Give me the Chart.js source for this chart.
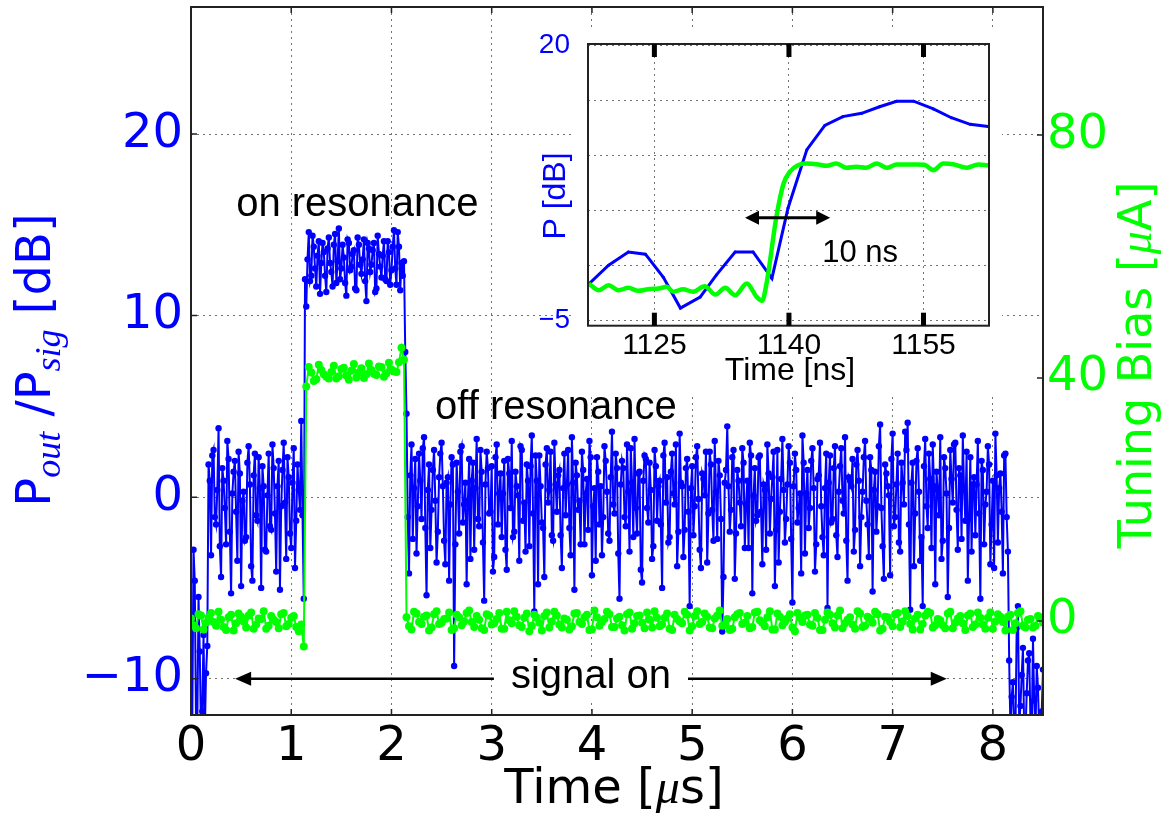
<!DOCTYPE html>
<html>
<head>
<meta charset="utf-8">
<script src="https://cdn.jsdelivr.net/npm/chart.js@4/dist/chart.umd.min.js"></script>
<style>
html, body { margin: 0; padding: 0; background: #fff; }
#wrap { position: relative; width: 1172px; height: 816px; }
#main { position: absolute; left: 0; top: 0; }
#inset { position: absolute; left: 540px; top: 30px; }
</style>
</head>
<body>
<div id="wrap">
  <canvas id="main" width="1172" height="816"></canvas>
  <canvas id="inset" width="462" height="365"></canvas>
</div>
<script>
// sampling of the two traces in the main panel (us); each trace is read at
// t = i*step and again half a step later
const sampleStep = 0.025;
const biasStep = 0.05;

// P_out/P_sig [dB] at t = i*sampleStep
const powerDb = [
  -13, -2.9, -12.5, -5.5, -13, -7.6, -9.7,
  1.8, -3.2, 2.6, -1.5, 3.8, -4.4, 0.9, -2.6, 2.1, -5.3, 1.4, -0.8, 2.5, -4.9, 0.3, -2.2, 2.8, -3.8, 1.2,
  -1.0, 2.2, -5.0, 0.6, -3.0, 2.4, -1.8, 1.6, -4.1, 2.0, -0.5, 3.0, -3.4, 1.1, -2.8, 2.7, -1.3, 0.4,
  4.2, -5.6,
  10.5, 14.6, 12.2, 13.8, 11.6, 14.1, 12.9, 13.5, 11.3, 14.3, 12.4, 13.9, 11.8, 14.8, 12.6, 13.2, 11.1, 14.0, 12.7, 13.6,
  11.4, 13.9, 12.3, 14.2, 10.8, 13.7, 12.8, 14.0, 11.5, 13.4, 12.1, 14.1, 11.9, 13.5, 12.5, 14.7, 11.7, 13.8, 12.9, 13.0,
  4.6, -4.2, 2.9, 0.5, -3.1, 2.4, -1.2, 3.3, -5.4, 1.8, -0.7, 2.6, -3.6, 1.1, 3.0, -2.4, 0.8, -4.6, 2.2, -9.3,
  1.9, -2.0, 2.8, -0.4, -4.8, 2.1, 0.9, -2.9, 3.2, -1.6, 1.4, -5.7, 2.5, -0.9, 1.7, -3.3, 2.9, 0.2, -2.2, 2.0,
  -4.0, 1.3, 3.1, -1.9, 0.6, -3.5, 2.6, -0.3, 1.8, -2.7, 3.4, -6.3, 0.9, 2.3, -1.4, -4.4, 2.7, 0.4, -2.1, 3.0,
  -0.8, 1.5, -3.9, 2.4, 0.7, -1.7, 3.3, -5.1, 1.2, -0.2, 2.5, -2.6, 1.0, 3.1, -4.3, 0.5, 2.2, -1.5, -3.2, 2.8,
  0.3, -2.4, 3.6, -0.9, 1.6, -5.6, 2.0, -1.1, 2.9, -3.0, 0.8, 3.2, -2.0, 1.4, -4.7, 2.3, -0.6, 1.9, -3.4, 2.6,
  -1.3, 0.9, -5.0, 3.0, 1.1, -2.2, 2.4, -0.4, -3.8, 3.5, 0.6, -1.8, 2.1, -6.0, 1.7, -0.5, 2.8, -2.9, 1.3, 0.1,
  -3.6, 2.5, -0.7, 3.1, -2.3, 1.2, -7.4, 0.8, 3.9, -1.9, 2.2, -4.5, 1.5, -0.3, 2.7, -2.8, 0.9, 3.0, -5.3, 1.6,
  -1.0, 2.3, -3.7, 0.4, 2.9, -2.0, 1.1, -4.9, 2.6, -0.8, 3.2, -2.5, 0.7, 1.9, -5.8, 2.4, -1.4, 0.2, 3.4, -3.1,
  1.5, -0.6, 2.7, -4.1, 1.0, 3.0, -2.2, 0.5, -6.1, 2.3, -1.2, 2.8, -3.3, 1.7, -0.2, 3.3, -4.6, 0.9, 2.1, -1.8,
  2.6, -3.8, 0.3, 3.1, -1.5, 2.2, -5.2, 1.4, -0.5, 4.0, -2.7, 1.8, 0.6, -4.3, 3.5, -1.1, 2.4, -3.0, 0.8, 3.6,
  4.1, -6.2, 1.9, -0.9, 2.7, -3.5, -6.0, 3.2, -1.7, 1.0, 2.9, -4.8, 0.4, 3.3, -2.4, 1.6, -5.5, 2.6, -0.3, 3.0,
  -2.9, 1.2, 3.4, -1.3, -4.6, 2.2, 0.7, -2.1, 3.1, -5.6, 1.5, -0.4, 2.8, -3.7, 0.9, 3.5, -2.5, 1.3, -4.2, 2.4,
  -3.0,
  -12.8, -10.2, -13, -6.0, -11.5, -8.3, -13, -9.0, -12.4, -7.8, -13, -10.5, -12.6, -9.5
];

// P_out/P_sig [dB] at t = (i + 0.5)*sampleStep
const powerDbMid = [
  -12.8, -4.6, -13, -8.5, -11.8, -13, -8.2,
  0.9, 2.3, -1.1, 0.4, -2.7, 1.6, -0.6, 3.1, -1.9, 0.2, 2.0, -3.5, 1.3, -0.2, -2.4, 1.9, 0.7, -4.6, 2.4,
  -1.3, 0.5, 1.7, -2.9, 0.1, -1.6, 2.9, -0.9, 0.6, -5.1, 1.5, -0.3, 2.2, -2.0, 0.8, -3.9, 1.8, -0.7,
  -1.0, 12.0,
  13.1, 11.9, 14.4, 12.6, 13.3, 11.2, 14.0, 12.2, 13.7, 12.9, 11.6, 14.5, 13.0, 12.0, 13.9, 11.8, 14.2, 12.5, 13.4, 11.5,
  14.3, 12.8, 13.1, 11.9, 14.0, 12.4, 13.6, 11.3, 14.4, 12.7, 13.3, 12.0, 14.1, 11.7, 13.8, 12.6, 14.6, 11.4, 12.2,
  8.0,
  -1.1, 1.2, -2.3, 2.1, -0.5, 0.9, 2.7, -1.7, 0.4, -2.8, 1.5, -0.2, -1.9, 2.4, 0.6, -3.7, 1.1, -0.4, 1.8, -2.6,
  0.3, 2.5, -1.4, 0.8, -0.2, -3.4, 1.9, 0.5, -1.2, 2.6, -2.5, 0.7, 1.6, -0.8, -4.1, 2.2, -1.5, 1.3, 0.2, -2.9,
  2.1, -0.6, -2.2, 1.4, 0.1, 2.8, -1.3, -3.0, 0.9, 1.7, -0.9, 2.3, -4.8, 0.6, -1.7, 1.8, -0.3, 2.5, -2.4, 0.7,
  1.2, -2.1, 0.5, -1.0, 2.6, -3.2, 0.8, 1.9, -0.7, -2.6, 1.5, 0.2, -1.8, 2.2, -0.5, -3.5, 1.4, 0.6, -1.1, 2.0,
  -2.0, 1.1, -0.4, 2.4, -3.1, 0.7, 1.6, -1.6, 0.3, 2.7, -2.2, -0.6, 1.3, -4.0, 0.9, 2.1, -1.4, 0.4, -2.7, 1.7,
  0.6, -1.5, 2.3, -0.3, -2.5, 1.4, 0.2, 2.9, -1.9, 0.8, -3.3, 1.6, -0.8, 0.5, -2.1, 2.2, -0.1, -3.9, 1.0, 2.5,
  -0.9, 1.8, -2.4, 0.3, 2.0, -1.2, -4.4, 1.5, 0.6, -0.7, 2.6, -2.0, 0.9, -1.6, 1.9, -0.4, -2.8, 2.3, 0.1, -1.3,
  2.2, -0.8, 0.7, -2.9, 1.3, -0.1, 2.5, -1.8, -3.6, 1.0, 0.4, -1.2, 2.8, -2.3, 0.6, 1.5, -0.6, -4.2, 1.9, 0.2,
  -1.7, 2.0, 0.5, -2.6, 1.2, -0.5, -3.2, 2.4, 0.8, -1.4, 1.6, -2.1, 0.3, 2.7, -0.9, -2.4, 1.1, 0.6, -3.0, 1.8,
  0.9, -1.1, 2.2, -0.2, -3.3, 1.5, 0.4, -1.9, 2.8, -0.6, -4.5, 1.3, 0.1, 2.1, -1.6, 0.7, -2.5, 1.9, -0.4, 2.6,
  -1.5, 0.8, -3.8, 2.0, 0.3, -2.2, 1.7, -0.5, 2.4, -2.8, 0.6, 1.4, -1.0, -3.4, 2.2, 0.2, -1.7, 1.0, 2.9, -0.7,
  1.6, -2.3, 0.4, 2.5, -1.2, -3.0, 1.1, 0.7, -0.9, 2.0, -2.6, 0.3, 1.8, -1.5, -3.9, 1.2, 0.5, -0.8, 2.3, -1.1,
  -9.0,
  -11.0, -13, -7.2, -12.5, -9.8, -13, -10.8, -8.6, -13, -11.2, -9.3, -13, -11.8
];

// tuning bias [uA] at t = i*biasStep
const biasUA = [
  0.4, -1.2, 0.9, -0.3, 1.3, -0.8, 0.2, -1.5, 1.0, -0.4, 0.7, -1.1, 1.4, -0.6, 0.3, -1.3, 0.8, -0.2, 1.1, -0.9, 0.5, -1.0, -0.6,
  38.6, 40.9, 39.8, 41.3, 40.2, 41.0, 39.9, 41.5, 40.4, 41.2, 40.1, 41.6, 40.6, 41.3, 40.5, 41.8, 40.8, 41.4, 41.0, 45.0,
  0.6, -1.4, 1.2, -0.5, 0.9, -1.1, 1.6, -0.3, 0.4, -1.5, 1.0, -0.7, 1.3, -0.2, 0.8, -1.2,
  1.1, -0.6, 0.3, -1.3, 1.5, -0.4, 0.7, -1.0, 1.2, -0.8, 0.5, -1.6, 1.4, -0.1, 0.9, -1.1,
  0.2, -0.9, 1.3, -0.5, 1.0, -1.4, 0.6, -0.2, 1.5, -1.0, 0.4, -0.7, 1.1, -1.3, 0.8, -0.3,
  1.4, -1.1, 0.5, -0.6, 1.2, -1.5, 0.3, -0.4, 1.0, -0.9, 1.6, -0.2, 0.7, -1.2, 0.9, -0.8,
  0.3, -1.3, 1.1, -0.5, 0.8, -1.0, 1.5, -0.3, 0.6, -1.4, 1.2, -0.7, 0.4, -1.1, 1.3, -0.2,
  1.0, -0.8, 0.5, -1.5, 1.4, -0.4, 0.9, -1.2, 0.2, -0.6, 1.6, -1.0, 0.7, -0.3, 1.1, -1.3,
  0.6, -0.9, 1.3, -0.1, 0.8, -1.4, 1.0, -0.5, 1.5, -1.1, 0.3, -0.7, 1.2, -1.2, 0.4, -0.4,
  0.9, -1.0, 1.4, -0.6, 0.5, -1.3, 1.1, -0.2, 0.7, -1.5, 1.3, -0.8, 0.2, -1.1, 0.8, -0.3
];

// tuning bias [uA] at t = (i + 0.5)*biasStep
const biasUAMid = [
  -0.7, 1.1, -1.4, 0.5, -0.2, 1.5, -1.0, 0.6, -1.6, 1.2, -0.1, 0.9, -1.3, 0.4, 1.6, -0.8, 0.2, -1.2, 1.3, -0.5, 0.8, -1.7,
  -4.2,
  41.8, 39.5, 42.2, 40.6, 39.9, 42.0, 40.3, 41.7, 39.7, 42.3, 40.9, 40.0, 42.4, 40.7, 41.9, 40.2, 42.5, 41.1, 42.6,
  43.0,
  -0.9, 1.5, -0.2, 0.7, -1.6, 1.1, -0.5, 0.3, 1.4, -1.2, 0.6, -0.1, 1.7, -1.0, 0.2, -1.5,
  0.9, -0.4, 1.3, -1.3, 0.1, 1.6, -0.7, 0.5, -1.7, 1.0, -0.3, 0.8, -1.1, 1.5, -0.6, 0.4,
  -1.4, 1.2, -0.2, 0.6, -1.5, 1.7, -0.8, 0.3, 1.1, -1.0, 0.7, -1.6, 1.4, -0.4, 0.9, -1.2,
  0.2, 1.6, -0.9, 0.5, -1.3, 1.0, -0.1, 1.5, -1.6, 0.8, -0.5, 1.2, -1.1, 0.4, 1.7, -0.7,
  -1.5, 0.6, 1.3, -0.3, -1.2, 1.4, 0.1, -0.9, 1.6, -1.4, 0.7, -0.2, 1.1, -1.7, 0.5, 0.9,
  -0.6, 1.3, -1.5, 0.2, 1.0, -1.1, 1.7, -0.4, 0.6, -1.3, 1.2, -0.8, 0.3, 1.5, -1.6, 0.7,
  -0.2, 1.1, -1.0, 1.6, -0.5, 0.4, -1.4, 0.9, 1.3, -0.7, 0.1, -1.2, 1.5, -0.3, 0.8, -1.5,
  1.2, -0.6, 0.5, -1.3, 1.4, -0.1, 0.7, -1.6, 1.0, -0.4, 1.6, -1.1, 0.3, -0.8, 0.6
];

const timeTicks = [0, 1, 2, 3, 4, 5, 6, 7, 8];
const powerTicks = [-10, 0, 10, 20];
const biasTicks = [0, 40, 80];

// inset: zoom on the switching edge (ns)
const zoomPowerTime = [1117.7, 1119.9, 1122.1, 1124.0, 1126.0, 1127.9, 1130.1, 1131.9, 1134.0, 1136.0, 1138.1, 1139.9,
  1142.0, 1144.0, 1146.0, 1148.1, 1150.1, 1152.0, 1153.9, 1156.1, 1158.1, 1160.2, 1162.2];
const zoomPowerDb = [-1.7, 0.0, 1.2, 1.0, -1.1, -3.9, -2.9, -0.9, 1.2, 1.2, -1.2, 5.2,
  10.5, 12.7, 13.5, 13.8, 14.4, 14.9, 14.9, 14.2, 13.4, 12.8, 12.6];
const zoomBiasTime = [1117.7, 1118.8, 1119.9, 1121.0, 1122.1, 1123.2, 1124.3, 1125.5, 1126.4, 1127.1, 1128.2, 1129.3,
  1130.6, 1131.8, 1132.9, 1134.0, 1135.3, 1136.4, 1137.0, 1137.5, 1138.6, 1139.4, 1140.1, 1141.0, 1142.0, 1143.1,
  1144.2, 1145.3, 1146.4, 1147.5, 1148.6, 1149.8, 1150.9, 1152.0, 1153.1, 1154.2, 1155.1, 1156.1, 1157.2, 1158.3,
  1159.8, 1161.1, 1162.2];
// bias trace in the inset, shown in the inset's dB units
const zoomBiasScaled = [-1.67, -2.27, -1.82, -2.27, -2.06, -2.33, -2.18, -2.12, -1.97, -2.42, -2.18, -2.42,
  -1.91, -2.67, -2.06, -2.73, -1.67, -2.88, -3.24, -1.67, 4.39, 7.42, 8.49, 9.09, 9.24, 9.18,
  9.03, 9.24, 8.85, 8.94, 8.85, 9.24, 8.85, 9.15, 9.15, 9.15, 9.12, 8.64, 9.24, 9.18,
  8.85, 9.15, 9.09];
const zoomTimeTicks = [1125, 1140, 1155];
const zoomPowerTicks = [-5, 0, 5, 10, 15, 20];

const BLUE = '#0000ff';
const GREEN = '#00ff00';
const SANS = 'DejaVu Sans';
const MATH = 'Liberation Serif';
const ARIAL = 'Liberation Sans';

function minus(v) { return v < 0 ? '\u2212' + Math.abs(v) : String(v); }

function setTicks(list) {
  return function(scale) { scale.ticks = list.map(v => ({ value: v })); };
}

// merge the on-step and half-step readings into one time-ordered trace
function interleave(onStep, halfStep, step) {
  const pts = [];
  onStep.forEach((v, i) => {
    pts.push({ x: i * step, y: v });
    if (i < halfStep.length) pts.push({ x: (i + 0.5) * step, y: halfStep[i] });
  });
  return pts;
}

// draws a run of differently styled pieces centred on (x, y)
function richText(ctx, parts, x, y, rot, color) {
  ctx.save();
  ctx.translate(x, y);
  if (rot) ctx.rotate(rot);
  ctx.fillStyle = color;
  ctx.textAlign = 'left';
  ctx.textBaseline = 'alphabetic';
  let total = 0;
  parts.forEach(p => { ctx.font = p.font; p.w = ctx.measureText(p.t).width; total += p.w; });
  let cx = -total / 2;
  parts.forEach(p => { ctx.font = p.font; ctx.fillText(p.t, cx, p.dy || 0); cx += p.w; });
  ctx.restore();
}

function arrowHead(ctx, tipX, tipY, dir, len, half) {
  ctx.beginPath();
  ctx.moveTo(tipX, tipY);
  ctx.lineTo(tipX - dir * len, tipY - half);
  ctx.lineTo(tipX - dir * len, tipY + half);
  ctx.closePath();
  ctx.fill();
}

const mainDecor = {
  id: 'mainDecor',
  afterDatasetsDraw(chart) {
    const { ctx, chartArea: a } = chart;
    const { x, y, y1 } = chart.scales;
    ctx.save();
    // inward tick marks
    ctx.strokeStyle = '#222';
    ctx.lineWidth = 1.5;
    ctx.beginPath();
    x.ticks.forEach(t => {
      const px = x.getPixelForValue(t.value);
      ctx.moveTo(px, a.bottom); ctx.lineTo(px, a.bottom - 6);
      ctx.moveTo(px, a.top); ctx.lineTo(px, a.top + 6);
    });
    y.ticks.forEach(t => {
      const py = y.getPixelForValue(t.value);
      ctx.moveTo(a.left, py); ctx.lineTo(a.left + 6, py);
    });
    y1.ticks.forEach(t => {
      const py = y1.getPixelForValue(t.value);
      ctx.moveTo(a.right, py); ctx.lineTo(a.right - 6, py);
    });
    ctx.stroke();
    ctx.lineWidth = 2;
    ctx.strokeRect(a.left, a.top, a.right - a.left, a.bottom - a.top);

    // annotations
    ctx.fillStyle = '#000';
    ctx.font = '40px "' + ARIAL + '"';
    ctx.textAlign = 'center';
    ctx.textBaseline = 'alphabetic';
    ctx.fillText('on resonance', x.getPixelForValue(1.66), y.getPixelForValue(15.5));
    ctx.fillText('off resonance', x.getPixelForValue(3.64), y.getPixelForValue(4.3));

    const ay = y.getPixelForValue(-10);
    const ax0 = x.getPixelForValue(0.44);
    const ax1 = x.getPixelForValue(7.54);
    ctx.strokeStyle = '#000';
    ctx.lineWidth = 2.5;
    ctx.beginPath();
    ctx.moveTo(ax0 + 10, ay); ctx.lineTo(ax1 - 10, ay);
    ctx.stroke();
    arrowHead(ctx, ax0, ay, -1, 16, 7);
    arrowHead(ctx, ax1, ay, 1, 16, 7);

    const sx = x.getPixelForValue(3.99);
    const sy = y.getPixelForValue(-10.5);
    const sw = ctx.measureText('signal on').width;
    ctx.fillStyle = '#fff';
    ctx.fillRect(sx - sw / 2 - 17, sy - 30, sw + 34, 42);
    ctx.fillStyle = '#000';
    ctx.fillText('signal on', sx, sy);
    ctx.restore();
  },
  afterDraw(chart) {
    const ctx = chart.ctx;
    const big = '48px "' + SANS + '"';
    const sub = 'italic 36px "' + MATH + '"';
    richText(ctx, [
      { t: 'P', font: big },
      { t: 'out', font: sub, dy: 10 },
      { t: ' /P', font: big },
      { t: 'sig', font: sub, dy: 10 },
      { t: ' [dB]', font: big }
    ], 50, 360, -Math.PI / 2, BLUE);
    richText(ctx, [
      { t: 'Tuning Bias [', font: '46px "' + SANS + '"' },
      { t: '\u03bc', font: 'italic 46px "' + MATH + '"' },
      { t: 'A]', font: '46px "' + SANS + '"' }
    ], 1151, 365, -Math.PI / 2, GREEN);
    richText(ctx, [
      { t: 'Time [', font: big },
      { t: '\u03bc', font: 'italic 48px "' + MATH + '"' },
      { t: 's]', font: big }
    ], 614, 803, 0, '#000');
  }
};

const gridStyle = { color: 'rgba(0,0,0,0.55)', lineWidth: 1, drawTicks: false };
const gridBorder = { display: false, dash: [2, 4] };

new Chart(document.getElementById('main'), {
  type: 'line',
  data: {
    datasets: [
      {
        label: 'Tuning bias',
        yAxisID: 'y1',
        order: 0,
        data: interleave(biasUA, biasUAMid, biasStep),
        borderColor: GREEN,
        backgroundColor: GREEN,
        borderWidth: 2,
        pointRadius: 4,
        pointBorderWidth: 0,
        tension: 0,
        clip: 0
      },
      {
        label: 'Pout/Psig',
        yAxisID: 'y',
        order: 1,
        data: interleave(powerDb, powerDbMid, sampleStep),
        borderColor: BLUE,
        backgroundColor: BLUE,
        borderWidth: 2,
        pointRadius: 3.2,
        pointBorderWidth: 0,
        tension: 0,
        clip: 0
      }
    ]
  },
  options: {
    responsive: false,
    animation: false,
    events: [],
    layout: { padding: { top: 7, left: 0, right: 0, bottom: 0 } },
    plugins: { legend: { display: false }, tooltip: { enabled: false } },
    scales: {
      x: {
        type: 'linear', min: 0, max: 8.5,
        afterBuildTicks: setTicks(timeTicks),
        afterFit: s => { s.height = 101; s.paddingLeft = 0; s.paddingRight = 0; },
        grid: gridStyle, border: gridBorder,
        ticks: { color: '#000', font: { family: SANS, size: 48 }, padding: 4, maxRotation: 0, autoSkip: false }
      },
      y: {
        position: 'left', min: -12, max: 27,
        afterBuildTicks: setTicks(powerTicks),
        afterFit: s => { s.width = 191; s.paddingTop = 0; s.paddingBottom = 0; },
        grid: gridStyle, border: gridBorder,
        ticks: { color: BLUE, font: { family: SANS, size: 48 }, padding: 8, callback: v => minus(v) }
      },
      y1: {
        position: 'right', min: -15.5, max: 101.1,
        afterBuildTicks: setTicks(biasTicks),
        afterFit: s => { s.width = 129; s.paddingTop = 0; s.paddingBottom = 0; },
        grid: { display: false, drawTicks: false }, border: { display: false },
        ticks: { color: GREEN, font: { family: SANS, size: 48 }, padding: 4 }
      }
    }
  },
  plugins: [mainDecor]
});

const insetDecor = {
  id: 'insetDecor',
  beforeDraw(chart) {
    const ctx = chart.ctx;
    ctx.save();
    ctx.fillStyle = '#fff';
    ctx.fillRect(33, 0, chart.width - 33, chart.height);
    ctx.restore();
  },
  afterDatasetsDraw(chart) {
    const { ctx, chartArea: a } = chart;
    const { x, y } = chart.scales;
    ctx.save();
    ctx.strokeStyle = '#222';
    ctx.lineWidth = 2;
    ctx.strokeRect(a.left, a.top, a.right - a.left, a.bottom - a.top);
    ctx.fillStyle = '#000';
    zoomTimeTicks.forEach(t => {
      const px = x.getPixelForValue(t);
      ctx.fillRect(px - 2.5, a.top, 5, 13);
      ctx.fillRect(px - 2.5, a.bottom - 13, 5, 13);
    });
    // 10 ns marker
    const ay = y.getPixelForValue(4.3);
    const ax0 = x.getPixelForValue(1135.1);
    const ax1 = x.getPixelForValue(1144.6);
    ctx.strokeStyle = '#000';
    ctx.lineWidth = 3;
    ctx.beginPath();
    ctx.moveTo(ax0 + 8, ay); ctx.lineTo(ax1 - 8, ay);
    ctx.stroke();
    arrowHead(ctx, ax0, ay, -1, 14, 7);
    arrowHead(ctx, ax1, ay, 1, 14, 7);
    ctx.font = '31px "' + ARIAL + '"';
    ctx.textAlign = 'left';
    ctx.textBaseline = 'alphabetic';
    ctx.fillText('10 ns', x.getPixelForValue(1143.7), y.getPixelForValue(0.3));
    ctx.restore();
  },
  afterDraw(chart) {
    const ctx = chart.ctx;
    richText(ctx, [{ t: 'P [dB]', font: '32px "' + ARIAL + '"' }], 25, 166, -Math.PI / 2, BLUE);
    richText(ctx, [{ t: 'Time [ns]', font: '32px "' + ARIAL + '"' }], 250, 350, 0, '#000');
  }
};

new Chart(document.getElementById('inset'), {
  type: 'line',
  data: {
    datasets: [
      {
        label: 'bias',
        order: 0,
        data: zoomBiasTime.map((t, i) => ({ x: t, y: zoomBiasScaled[i] })),
        borderColor: GREEN,
        borderWidth: 4.5,
        pointRadius: 0,
        cubicInterpolationMode: 'monotone'
      },
      {
        label: 'power',
        order: 1,
        data: zoomPowerTime.map((t, i) => ({ x: t, y: zoomPowerDb[i] })),
        borderColor: BLUE,
        backgroundColor: BLUE,
        borderWidth: 3,
        pointRadius: 1.5,
        pointBorderWidth: 0,
        tension: 0
      }
    ]
  },
  options: {
    responsive: false,
    animation: false,
    events: [],
    layout: { padding: { top: 14, right: 13, left: 0, bottom: 0 } },
    plugins: { legend: { display: false }, tooltip: { enabled: false } },
    scales: {
      x: {
        type: 'linear', min: 1117.6, max: 1162.3,
        afterBuildTicks: setTicks(zoomTimeTicks),
        afterFit: s => { s.height = 69.3; s.paddingLeft = 0; s.paddingRight = 0; },
        grid: gridStyle, border: gridBorder,
        ticks: { color: '#000', font: { family: ARIAL, size: 30 }, padding: 2, maxRotation: 0, autoSkip: false,
          callback: v => String(v) }
      },
      y: {
        min: -5.5, max: 20.1,
        afterBuildTicks: setTicks(zoomPowerTicks),
        afterFit: s => { s.width = 48; s.paddingTop = 0; s.paddingBottom = 0; },
        grid: gridStyle, border: gridBorder,
        ticks: {
          color: BLUE, font: { family: ARIAL, size: 28 }, padding: 18,
          callback: v => (v === 20 || v === -5) ? minus(v) : ''
        }
      }
    }
  },
  plugins: [insetDecor]
});
</script>
</body>
</html>
